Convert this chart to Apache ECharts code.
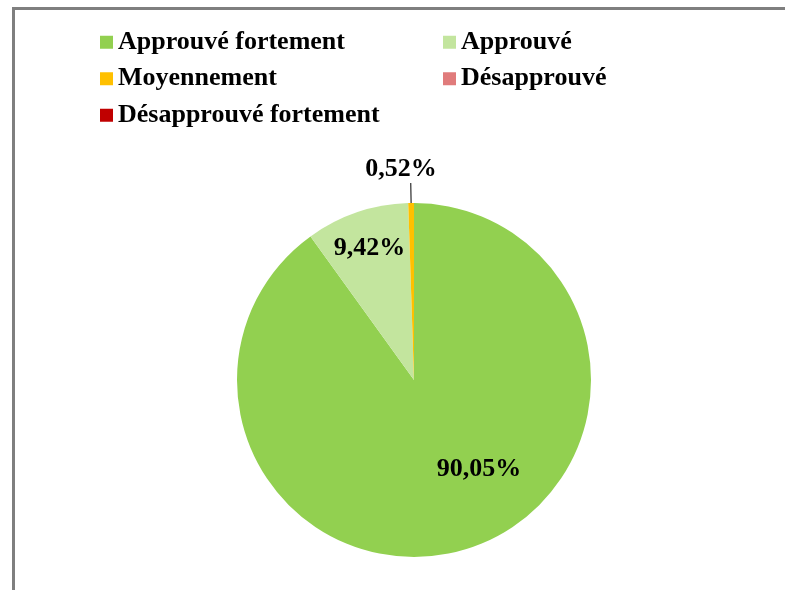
<!DOCTYPE html>
<html>
<head>
<meta charset="utf-8">
<script src="https://cdn.jsdelivr.net/npm/echarts@6/dist/echarts.min.js"></script>
<style>
html,body{margin:0;padding:0;background:#fff;}
#chart{width:785px;height:590px;}
</style>
</head>
<body>
<div id="chart"></div>
<script>
const categories = ['Approuvé fortement', 'Approuvé', 'Moyennement', 'Désapprouvé', 'Désapprouvé fortement'];
const values = [90.05, 9.42, 0.52, 0, 0];
const colors = ['#92D050', '#C3E59E', '#FFC000', '#E07B7B', '#C00000'];

const FONT = '"Liberation Serif", "Times New Roman", serif';

const labelShift = [
  {dx: 37, dy: 2},
  {dx: -15, dy: -45},
  {dx: 31, dy: -14},
  {dx: 0, dy: 0},
  {dx: 0, dy: 0}
];

const data = categories.map((name, i) => ({
  name: name,
  value: values[i],
  itemStyle: {color: colors[i]},
  label: values[i] === 0 ? {show: false} : (i === 2 ? {position: 'outside'} : {position: 'inside'}),
  labelLine: i === 2 ? {show: true, length: 20, length2: 0} : {show: false}
}));

const chart = echarts.init(document.getElementById('chart'), null, {renderer: 'canvas'});
chart.setOption({
  backgroundColor: '#ffffff',
  animation: false,
  graphic: [{
    type: 'rect',
    shape: {x: 13.5, y: 8.5, width: 900, height: 800},
    style: {fill: 'none', stroke: '#7f7f7f', lineWidth: 3},
    silent: true,
    z: -10
  }],
  legend: {
    left: 100,
    top: 29,
    width: 700,
    padding: 0,
    itemGap: 10,
    itemWidth: 13,
    itemHeight: 13,
    icon: 'rect',
    data: categories,
    textStyle: {
      fontFamily: FONT,
      fontWeight: 'bold',
      fontSize: 26,
      color: '#000',
      width: 315,
      lineHeight: 26.5
    }
  },
  series: [{
    type: 'pie',
    center: [414, 380],
    radius: [0, 177],
    startAngle: 90,
    clockwise: true,
    avoidLabelOverlap: false,
    stillShowZeroSum: false,
    data: data,
    label: {
      show: true,
      fontFamily: FONT,
      fontWeight: 'bold',
      fontSize: 26,
      color: '#000',
      formatter: p => p.value.toFixed(2).replace('.', ',') + '%'
    },
    labelLine: {
      lineStyle: {color: '#000', width: 1}
    },
    labelLayout: function (params) {
      const s = labelShift[params.dataIndex] || {dx: 0, dy: 0};
      return {dx: s.dx, dy: s.dy};
    },
    emphasis: {disabled: true}
  }]
});
</script>
</body>
</html>
